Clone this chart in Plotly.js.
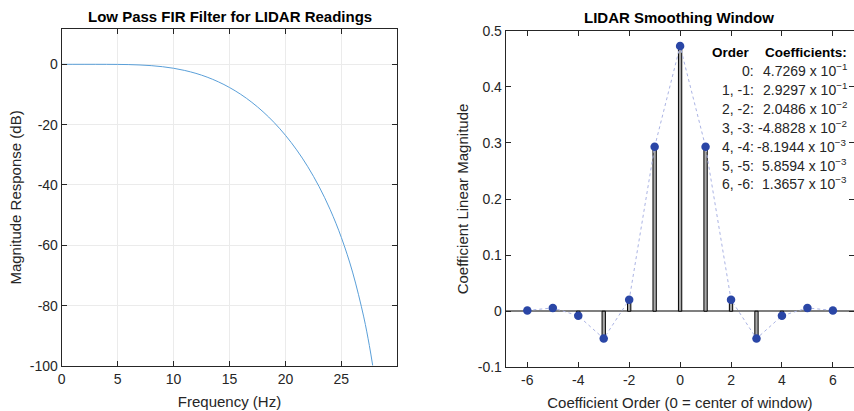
<!DOCTYPE html>
<html>
<head>
<meta charset="utf-8">
<script src="https://cdn.plot.ly/plotly-3.0.1.min.js"></script>
<style>html,body{margin:0;padding:0;background:#fff;}#chart{width:854px;height:411px;}</style>
</head>
<body>
<div id="chart"></div>
<script>
// ---- Left panel: magnitude response (dB) vs frequency (Hz) ----
const freqHz = [0,1,2,3,4,5,6,7,8,9,10,11,12,13,14,15,16,17,18,19,20,21,22,23,24,25,26,27,27.5,27.8];
const magDb  = [0,0,0,-0.002,-0.01,-0.036,-0.097,-0.221,-0.441,-0.793,-1.314,-2.042,-3.01,-4.253,-5.802,-7.69,-9.947,-12.613,-15.73,-19.344,-23.525,-28.356,-33.954,-40.476,-48.171,-57.417,-68.86,-83.73,-93.18,-99.82];
const leftXTicks = [0,5,10,15,20,25];
const leftXText  = ['0','5','10','15','20','25'];
const leftYTicks = [0,-20,-40,-60,-80,-100];
const leftYText  = ['0','-20','-40','-60','-80','-100'];

// ---- Right panel: smoothing window coefficients ----
const coefOrder = [-6,-5,-4,-3,-2,-1,0,1,2,3,4,5,6];
const coefValue = [0.0013657,0.0058594,-0.0081944,-0.048828,0.020486,0.29297,0.47269,0.29297,0.020486,-0.048828,-0.0081944,0.0058594,0.0013657];
const rightXTicks = [-6,-4,-2,0,2,4,6];
const rightXText  = ['-6','-4','-2','0','2','4','6'];
const rightYTicks = [-0.1,0,0.1,0.2,0.3,0.4,0.5];
const rightYText  = ['-0.1','0','0.1','0.2','0.3','0.4','0.5'];

// ---- Coefficient table text ----
const tableOrders   = ['0:','1, -1:','2, -2:','3, -3:','4, -4:','5, -5:','6, -6:'];
const tableMantissa = ['4.7269','2.9297','2.0486','-4.8828','-8.1944','5.8594','1.3657'];
const tableExponent = ['\u22121','\u22121','\u22122','\u22122','\u22123','\u22123','\u22123'];

const W = 854, H = 411;
const px = v => v / W;
const py = v => 1 - v / H;
const FONT = 'Liberation Sans, Arial, Helvetica, sans-serif';
const TXT = '#262626';

const traces = [
  {
    type: 'scatter', mode: 'lines', x: freqHz, y: magDb,
    line: {color: '#5a9fd8', width: 1, shape: 'spline', smoothing: 1},
    xaxis: 'x', yaxis: 'y', hoverinfo: 'skip'
  },
  {
    type: 'bar', x: coefOrder, y: coefValue, width: 0.13,
    marker: {color: '#a9a9a9', line: {color: '#000000', width: 1}},
    xaxis: 'x2', yaxis: 'y2', hoverinfo: 'skip'
  },
  {
    type: 'scatter', mode: 'lines+markers', x: coefOrder, y: coefValue,
    line: {color: '#aab3e3', width: 1, dash: 'dot'},
    marker: {color: '#2a46a6', size: 8.5},
    xaxis: 'x2', yaxis: 'y2', hoverinfo: 'skip'
  }
];

const axBase = {
  showline: true, mirror: 'ticks', linecolor: TXT, linewidth: 1,
  ticks: 'inside', ticklen: 5, tickcolor: TXT, tickwidth: 1,
  tickfont: {family: FONT, size: 14, color: TXT},
  tickmode: 'array', fixedrange: true
};

const annotations = [
  {text: '<b>Low Pass FIR Filter for LIDAR Readings</b>', xref: 'paper', yref: 'paper',
   x: px(229.5), y: py(17), xanchor: 'center', yanchor: 'middle', showarrow: false,
   font: {family: FONT, size: 15, color: '#000'}},
  {text: '<b>LIDAR Smoothing Window</b>', xref: 'paper', yref: 'paper',
   x: px(679), y: py(18), xanchor: 'center', yanchor: 'middle', showarrow: false,
   font: {family: FONT, size: 15, color: '#000'}},
  {text: '<b>Order</b>', xref: 'paper', yref: 'paper',
   x: px(752), y: py(52), xanchor: 'right', yanchor: 'middle', showarrow: false,
   font: {family: FONT, size: 13.5, color: '#000'}},
  {text: '<b>Coefficients:</b>', xref: 'paper', yref: 'paper',
   x: px(849), y: py(52), xanchor: 'right', yanchor: 'middle', showarrow: false,
   font: {family: FONT, size: 13.5, color: '#000'}}
];
tableOrders.forEach((lab, i) => {
  const yy = 71 + i * 18.9;
  annotations.push({text: lab, xref: 'paper', yref: 'paper', x: px(756), y: py(yy),
    xanchor: 'right', yanchor: 'middle', showarrow: false,
    font: {family: FONT, size: 14, color: TXT}});
  annotations.push({text: tableMantissa[i] + ' x 10<sup>' + tableExponent[i] + '</sup>',
    xref: 'paper', yref: 'paper', x: px(849), y: py(yy - 1),
    xanchor: 'right', yanchor: 'middle', showarrow: false,
    font: {family: FONT, size: 14, color: TXT}});
});

const layout = {
  width: W, height: H, margin: {l: 0, r: 0, t: 0, b: 0},
  paper_bgcolor: '#ffffff', plot_bgcolor: '#ffffff', showlegend: false,
  font: {family: FONT, color: TXT},
  xaxis: Object.assign({}, axBase, {
    domain: [px(61.7), px(397.3)], range: [0, 30],
    tickvals: leftXTicks, ticktext: leftXText,
    showgrid: true, gridcolor: '#ebebeb', zeroline: false,
    title: {text: 'Frequency (Hz)', font: {family: FONT, size: 15, color: TXT}, standoff: 10},
    anchor: 'y'
  }),
  yaxis: Object.assign({}, axBase, {
    domain: [1 - 366 / H, 1 - 29 / H], range: [-100, 11.7],
    tickvals: leftYTicks, ticktext: leftYText,
    showgrid: true, gridcolor: '#ebebeb', zeroline: false,
    title: {text: 'Magnitude Response (dB)', font: {family: FONT, size: 15, color: TXT}, standoff: 4},
    anchor: 'x'
  }),
  xaxis2: Object.assign({}, axBase, {
    domain: [px(505.7), 1], range: [-6.85, 6.83],
    tickvals: rightXTicks, ticktext: rightXText,
    showgrid: false, zeroline: false,
    title: {text: 'Coefficient Order (0 = center of window)', font: {family: FONT, size: 15, color: TXT}, standoff: 10},
    anchor: 'y2'
  }),
  yaxis2: Object.assign({}, axBase, {
    domain: [1 - 367.3 / H, 1 - 30.7 / H], range: [-0.1, 0.5],
    tickvals: rightYTicks, ticktext: rightYText,
    showgrid: false, zeroline: true, zerolinecolor: '#7f7f7f', zerolinewidth: 1.5,
    title: {text: 'Coefficient Linear Magnitude', font: {family: FONT, size: 15, color: TXT}, standoff: 5},
    anchor: 'x2'
  }),
  annotations: annotations
};

Plotly.newPlot('chart', traces, layout, {displayModeBar: false, staticPlot: true});
</script>
</body>
</html>
